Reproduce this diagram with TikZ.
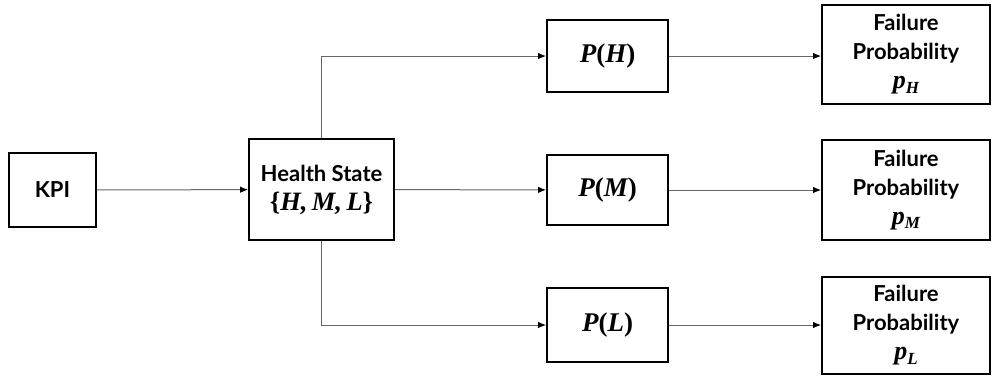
\documentclass[tikz,border=0pt]{standalone}
\usepackage{fontspec}
\setmainfont{Lato}
\newfontfamily\mfam{Liberation Serif}
\newcommand{\mb}[1]{{\mfam\bfseries\itshape #1}}
\newcommand{\upc}[1]{{\upshape #1}}
\newcommand{\subm}[1]{\raisebox{-4.5pt}{\fontsize{17}{17}\selectfont\mb{#1}}}
\usetikzlibrary{arrows.meta}
\begin{document}
\begin{tikzpicture}[x=1pt,y=-1pt,
  box/.style={draw=black,line width=1.5pt,minimum width=#1,inner sep=0pt,align=center,
    font=\bfseries\fontsize{22}{29}\selectfont},
  mth/.style={font=\fontsize{27}{29}\selectfont},
  conn/.style={draw=black!60,line width=1pt,-{Latex[length=8pt,width=6.5pt,color=black]},shorten >=0.2pt}]
\useasboundingbox (0,0) rectangle (992,376);
\node[box=87pt,minimum height=74pt] (kpi) at (52.5,190) {KPI};
\node[box=145pt,minimum height=101pt] (hs) at (321.5,189.5) {Health State\\{\fontsize{26.5}{29}\selectfont\mb{\upc{\{}H,\,M,\,L\upc{\}}}}};
\node[box=121pt,minimum height=72pt,mth] (ph) at (607.5,56) {\mb{P\upc{(}H\upc{)}}};
\node[box=121pt,minimum height=70pt,mth] (pm) at (607.5,190) {\mb{P\upc{(}M\upc{)}}};
\node[box=121pt,minimum height=74pt,mth] (pl) at (607.5,325) {\mb{P\upc{(}L\upc{)}}};
\node[box=168pt,minimum height=99pt] (fh) at (906,54.5) {Failure\\Probability\\{\fontsize{26}{29}\selectfont\mb{p}\subm{H}}};
\node[box=168pt,minimum height=100pt] (fm) at (906,190) {Failure\\Probability\\{\fontsize{26}{29}\selectfont\mb{p}\subm{M}}};
\node[box=168pt,minimum height=97pt] (fl) at (906,325.5) {Failure\\Probability\\{\fontsize{26}{29}\selectfont\mb{p}\subm{L}}};
\draw[conn] (kpi) -- (hs);
\draw[conn] (hs) -- (pm);
\draw[conn] (hs.north) |- (ph.west);
\draw[conn] (hs.south) |- (pl.west);
\draw[conn] (ph) -- (fh.west |- ph.east);
\draw[conn] (pm) -- (fm.west |- pm.east);
\draw[conn] (pl) -- (fl.west |- pl.east);
\end{tikzpicture}
\end{document}
